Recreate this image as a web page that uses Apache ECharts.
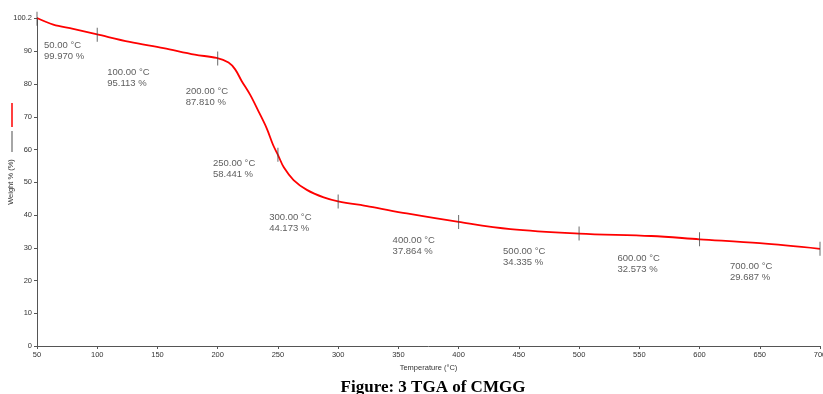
<!DOCTYPE html>
<html>
<head>
<meta charset="utf-8">
<script src="https://cdn.jsdelivr.net/npm/echarts@6/dist/echarts.min.js"></script>
<style>
  html, body { margin: 0; padding: 0; background: #fff; }
  #main { width: 823px; height: 394px; }
</style>
</head>
<body>
<div id="main"></div>
<script>
// TGA curve
const temps = [50, 63.5, 80, 100, 127, 155, 181, 199, 209, 214.5, 220, 227, 234, 240.7, 246, 250, 255, 263, 274, 288, 300, 326, 357, 400, 443, 500, 560, 600, 650, 700];
const weights = [100.2, 98.2, 96.9, 95.2, 92.9, 91.0, 89.0, 88.0, 86.6, 84.5, 80.9, 76.7, 71.6, 66.5, 61.4, 58.4, 54.5, 50.7, 47.7, 45.4, 44.2, 42.6, 40.5, 37.9, 35.7, 34.35, 33.6, 32.6, 31.4, 29.7];

// annotated points
const markTemps = [50, 100, 200, 250, 300, 400, 500, 600, 700];
const markWeights = [99.970, 95.113, 87.810, 58.441, 44.173, 37.864, 34.335, 32.573, 29.687];

// axis ticks
const yTicks = [0, 10, 20, 30, 40, 50, 60, 70, 80, 90, 100.2];

// label offsets from the tick marks (pixels)
const labelOffsets = [[7, 21], [10, 32], [-32, 27], [-65, 3], [-69, 10], [-66, 13], [-76, 12], [-82, 14], [-90, 12]];

const chart = echarts.init(document.getElementById('main'));

const option = {
  animation: false,
  textStyle: { fontFamily: 'Liberation Sans' },
  title: {
    text: 'Figure: 3 TGA of CMGG',
    left: 428,
    textAlign: 'center',
    top: 374,
    textStyle: { fontFamily: 'Liberation Serif', fontSize: 17, fontWeight: 'bold', color: '#000' }
  },
  grid: { left: 37, top: 18, right: 3, bottom: 48, outerBoundsMode: 'none' },
  xAxis: {
    type: 'value',
    min: 50,
    max: 700,
    interval: 50,
    name: 'Temperature (°C)',
    nameLocation: 'middle',
    nameGap: 17,
    nameTextStyle: { fontSize: 7.5, color: '#333' },
    splitLine: { show: false },
    axisLine: { lineStyle: { color: '#555', width: 1 } },
    axisTick: { length: 3, lineStyle: { color: '#555' } },
    axisLabel: { fontSize: 7.5, color: '#333', margin: 5 }
  },
  yAxis: {
    type: 'value',
    min: 0,
    max: 100.2,
    name: 'Weight % (%)',
    nameLocation: 'middle',
    nameGap: 22,
    nameMoveOverlap: false,
    nameTextStyle: { fontSize: 7.5, color: '#333' },
    splitLine: { show: false },
    axisLine: { show: true, lineStyle: { color: '#555', width: 1 } },
    axisTick: { show: true, length: 3, customValues: yTicks, lineStyle: { color: '#555' } },
    axisLabel: { fontSize: 7.5, color: '#333', margin: 5, customValues: yTicks }
  },
  graphic: [
    { type: 'line', shape: { x1: 12, y1: 103, x2: 12, y2: 127 }, style: { stroke: '#ff0000', lineWidth: 1.5 } },
    { type: 'line', shape: { x1: 12, y1: 131, x2: 12, y2: 152 }, style: { stroke: '#888', lineWidth: 1.5 } }
  ],
  series: [
    {
      type: 'line',
      data: temps.map((t, i) => [t, weights[i]]),
      smooth: 0.35,
      showSymbol: false,
      lineStyle: { color: '#ff0000', width: 1.8 },
      z: 2
    },
    {
      type: 'scatter',
      symbol: 'rect',
      symbolSize: [1, 14],
      itemStyle: { color: '#444' },
      z: 3,
      data: markTemps.map((t, i) => ({
        value: [t, markWeights[i]],
        label: {
          show: true,
          position: 'inside',
          align: 'left',
          verticalAlign: 'top',
          offset: labelOffsets[i],
          formatter: t.toFixed(2) + ' °C\n' + markWeights[i].toFixed(3) + ' %',
          fontSize: 9.5,
          lineHeight: 11,
          color: '#333'
        }
      }))
    }
  ]
};

chart.setOption(option);
</script>
</body>
</html>
